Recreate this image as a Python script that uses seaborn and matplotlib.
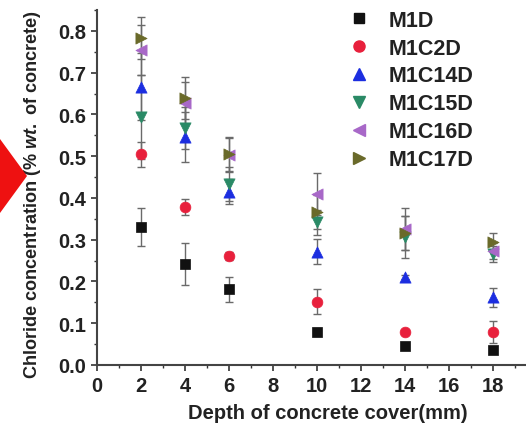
import numpy as np
import pandas as pd
import matplotlib
matplotlib.use("Agg")
import matplotlib.pyplot as plt
import seaborn as sns
from matplotlib.ticker import MultipleLocator, FormatStrFormatter
from matplotlib.patches import Polygon
from matplotlib.lines import Line2D

# ---- data ----
depth = [2, 4, 6, 10, 14, 18]
series = ["M1D", "M1C2D", "M1C14D", "M1C15D", "M1C16D", "M1C17D"]
m1d     = [0.330, 0.242, 0.181, 0.079, 0.046, 0.036]
m1c2d   = [0.505, 0.378, 0.261, 0.151, 0.080, 0.079]
m1c14d  = [0.666, 0.546, 0.415, 0.271, 0.210, 0.162]
m1c15d  = [0.594, 0.567, 0.433, 0.342, 0.306, 0.266]
m1c16d  = [0.754, 0.628, 0.503, 0.410, 0.326, 0.273]
m1c17d  = [0.783, 0.640, 0.505, 0.366, 0.316, 0.295]
err_m1d    = [0.045, 0.050, 0.030, 0.010, 0.005, 0.005]
err_m1c2d  = [0.030, 0.020, 0.010, 0.030, 0.005, 0.027]
err_m1c14d = [0.080, 0.060, 0.030, 0.030, 0.005, 0.023]
err_m1c15d = [0.100, 0.050, 0.040, 0.030, 0.050, 0.020]
err_m1c16d = [0.060, 0.050, 0.040, 0.050, 0.050, 0.020]
err_m1c17d = [0.050, 0.050, 0.040, 0.040, 0.040, 0.020]
x_ticks = [0, 2, 4, 6, 8, 10, 12, 14, 16, 18, 20]

values = [m1d, m1c2d, m1c14d, m1c15d, m1c16d, m1c17d]
errors = [err_m1d, err_m1c2d, err_m1c14d, err_m1c15d, err_m1c16d, err_m1c17d]

rows = []
for name, vals, errs in zip(series, values, errors):
    for d, v, e in zip(depth, vals, errs):
        rows.append({"depth": d, "value": v, "err": e, "series": name})
df = pd.DataFrame(rows)

colors = {"M1D": "#111111", "M1C2D": "#e8203c", "M1C14D": "#1c2ee0",
          "M1C15D": "#2a8a66", "M1C16D": "#a868c8", "M1C17D": "#6a6a2a"}
markers = {"M1D": "s", "M1C2D": "o", "M1C14D": "^",
           "M1C15D": "v", "M1C16D": "<", "M1C17D": ">"}
sizes = {"M1D": 50, "M1C2D": 60, "M1C14D": 65, "M1C15D": 65, "M1C16D": 65, "M1C17D": 65}

sns.set_theme(style="ticks")
plt.rcParams["font.family"] = ["Liberation Sans", "DejaVu Sans"]
plt.rcParams["font.weight"] = "bold"
plt.rcParams["mathtext.fontset"] = "custom"
plt.rcParams["mathtext.it"] = "Liberation Sans:italic:bold"
plt.rcParams["mathtext.rm"] = "Liberation Sans:bold"

fig = plt.figure(figsize=(5.26, 4.27), dpi=100)
fig.patch.set_facecolor("white")
ax = fig.add_axes([97 / 526, 61 / 427, 462 / 526, 355 / 427])

# error bars
for name in series:
    sub = df[df.series == name]
    ax.errorbar(sub.depth, sub.value, yerr=sub.err, fmt="none",
                ecolor="#6a6a6a", elinewidth=1.0, capsize=3, capthick=1.0, zorder=2)

# markers
for name in series:
    sub = df[df.series == name]
    sns.scatterplot(data=sub, x="depth", y="value", ax=ax, color=colors[name],
                    marker=markers[name], s=sizes[name], edgecolor=colors[name],
                    linewidth=0.5, zorder=3, legend=False)

ax.set_xlim(0, 21)
ax.set_ylim(0, 0.85)
ax.set_xticks(x_ticks)
ax.xaxis.set_minor_locator(MultipleLocator(1))
ax.yaxis.set_major_locator(MultipleLocator(0.1))
ax.yaxis.set_minor_locator(MultipleLocator(0.05))
ax.yaxis.set_major_formatter(FormatStrFormatter("%.1f"))
ax.tick_params(axis="both", which="major", direction="out", length=4, width=1.2,
               labelsize=14.5, colors="#333333", labelcolor="#222222", pad=4)
ax.tick_params(axis="both", which="minor", direction="out", length=2.5, width=1.0, colors="#333333")
for lbl in ax.get_xticklabels() + ax.get_yticklabels():
    lbl.set_fontweight("bold")
for s in ["top", "right"]:
    ax.spines[s].set_visible(False)
for s in ["left", "bottom"]:
    ax.spines[s].set_linewidth(1.5)
    ax.spines[s].set_color("#444444")

ax.set_xlabel("Depth of concrete cover(mm)", fontsize=14.5, fontweight="bold", color="#222222", labelpad=6)
ax.set_ylabel(r"Chloride concentration (% $\it{wt.}$ of concrete)", fontsize=13.1, fontweight="bold",
              color="#222222")
ax.yaxis.set_label_coords(-(97 - 43) / 462, (366 - 195) / 355)

# legend
handles = [Line2D([], [], linestyle="none", marker=markers[n], color=colors[n],
                  markersize=8 if n != "M1D" else 7) for n in series]
leg = fig.legend(handles, series, loc="upper left", bbox_to_anchor=(337 / 526, 1 - 2 / 427),
                 frameon=False, prop={"weight": "bold", "size": 15.5},
                 handletextpad=0.8, labelspacing=0.32, handlelength=1.2, borderaxespad=0)
for t in leg.get_texts():
    t.set_color("#222222")

# red pointer shape at the left edge
fig.patches.append(Polygon([[0, 1 - 140 / 427], [27 / 526, 1 - 177 / 427], [0, 1 - 214 / 427]],
                           closed=True, transform=fig.transFigure, facecolor="#ee1111",
                           edgecolor="none", figure=fig))

fig.savefig("out.png", dpi=100, facecolor="white")
